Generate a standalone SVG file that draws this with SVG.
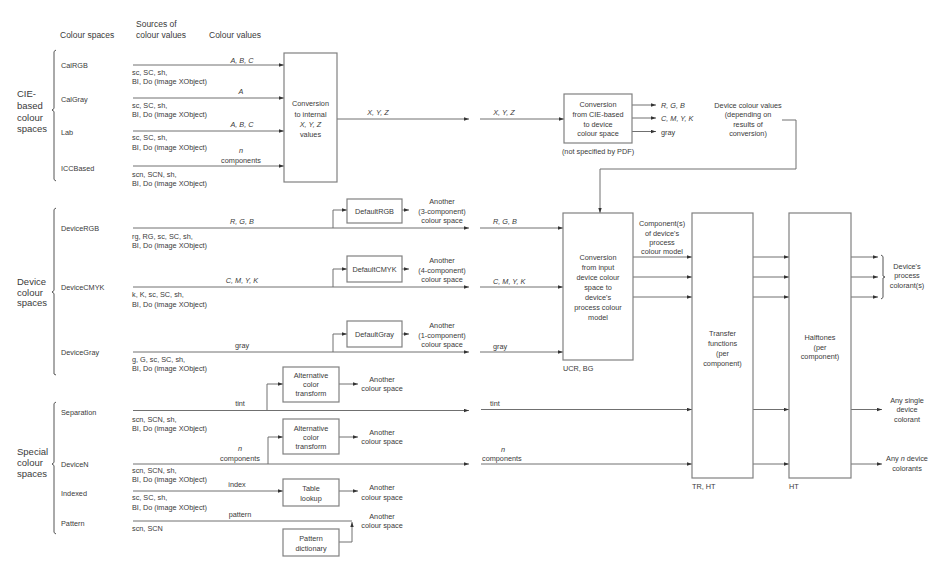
<svg xmlns="http://www.w3.org/2000/svg" width="949" height="570" viewBox="0 0 949 570">
<defs>
<marker id="ah" markerUnits="userSpaceOnUse" markerWidth="6" markerHeight="4" refX="5" refY="2" orient="auto">
<path d="M0,0.3 L5,2 L0,3.7 z" fill="#333"/>
</marker>
<style>
text{font-family:"Liberation Sans",Arial,sans-serif;font-size:7.3px;fill:#3a3a3a}
.h{font-size:8.5px}
.g{font-size:9.5px}
.i{font-style:italic}
.m{text-anchor:middle}
.ln{stroke:#707070;stroke-width:1;fill:none}
.ar{marker-end:url(#ah)}
.bx{fill:#fff;stroke:#808080;stroke-width:1.2}
.br{stroke:#555;stroke-width:1;fill:none}
</style>
</defs>
<rect width="949" height="570" fill="#fff"/>

<g id="headers">
<text class="h" x="60" y="38">Colour spaces</text>
<text class="h" x="136" y="27">Sources of</text>
<text class="h" x="136" y="38">colour values</text>
<text class="h" x="209" y="38">Colour values</text>
</g>

<g id="groups">
<path class="br" d="M56,50 L54,51.5 V108.5 L52,110 L54,111.5 V179.5 L56,181"/>
<text class="g" x="17" y="97">CIE-</text>
<text class="g" x="17" y="109">based</text>
<text class="g" x="17" y="120.5">colour</text>
<text class="g" x="17" y="131.5">spaces</text>
<path class="br" d="M56,208 L54,209.5 V290.5 L52,292 L54,293.5 V374 L56,375"/>
<text class="g" x="17" y="285">Device</text>
<text class="g" x="17" y="295.5">colour</text>
<text class="g" x="17" y="306">spaces</text>
<path class="br" d="M56,402 L54,403.5 V462.5 L52,464 L54,465.5 V532.5 L56,534"/>
<text class="g" x="17" y="455">Special</text>
<text class="g" x="17" y="466">colour</text>
<text class="g" x="17" y="477">spaces</text>
</g>

<g id="spaces">
<text x="61" y="67.5">CalRGB</text>
<text x="61" y="101.5">CalGray</text>
<text x="61" y="134.5">Lab</text>
<text x="61" y="170.5">ICCBased</text>
<text x="61" y="231">DeviceRGB</text>
<text x="61" y="290">DeviceCMYK</text>
<text x="61" y="354.5">DeviceGray</text>
<text x="61" y="415">Separation</text>
<text x="61" y="467">DeviceN</text>
<text x="61" y="496">Indexed</text>
<text x="61" y="525.5">Pattern</text>
</g>

<g id="sources">
<text x="132" y="74.5">sc, SC, sh,</text>
<text x="132" y="83.5">BI, Do (image XObject)</text>
<text x="132" y="107.5">sc, SC, sh,</text>
<text x="132" y="116.5">BI, Do (image XObject)</text>
<text x="132" y="140">sc, SC, sh,</text>
<text x="132" y="149.5">BI, Do (image XObject)</text>
<text x="132" y="176.5">scn, SCN, sh,</text>
<text x="132" y="185.5">BI, Do (image XObject)</text>
<text x="132" y="238.5">rg, RG, sc, SC, sh,</text>
<text x="132" y="248">BI, Do (image XObject)</text>
<text x="132" y="297">k, K, sc, SC, sh,</text>
<text x="132" y="306.7">BI, Do (image XObject)</text>
<text x="132" y="361.7">g, G, sc, SC, sh,</text>
<text x="132" y="370.7">BI, Do (image XObject)</text>
<text x="132" y="422">scn, SCN, sh,</text>
<text x="132" y="431">BI, Do (image XObject)</text>
<text x="132" y="472.7">scn, SCN, sh,</text>
<text x="132" y="482">BI, Do (image XObject)</text>
<text x="132" y="500">sc, SC, sh,</text>
<text x="132" y="509.5">BI, Do (image XObject)</text>
<text x="132" y="531">scn, SCN</text>
</g>

<g id="connectors">
<path class="ln ar" d="M133,65 H284"/>
<path class="ln ar" d="M133,98 H284"/>
<path class="ln ar" d="M133,131 H284"/>
<path class="ln ar" d="M133,166 H284"/>
<path class="ln ar" d="M337,119 H469"/>
<path class="ln ar" d="M480,119 H564"/>
<path class="ln ar" d="M632,105 H656"/>
<path class="ln ar" d="M632,118 H656"/>
<path class="ln ar" d="M632,131.5 H656"/>
<path class="ln ar" d="M782,120 H796 V169 H600 V213"/>

<path class="ln ar" d="M133,228 H469"/>
<path class="ln ar" d="M333,228 V210 H347"/>
<path class="ln ar" d="M402,210 H409"/>
<path class="ln ar" d="M480,228 H563"/>
<path class="ln ar" d="M133,287 H469"/>
<path class="ln ar" d="M333,287 V269 H347"/>
<path class="ln ar" d="M402,269 H409"/>
<path class="ln ar" d="M480,287 H563"/>
<path class="ln ar" d="M133,352 H469"/>
<path class="ln ar" d="M333,352 V334 H347"/>
<path class="ln ar" d="M402,334 H409"/>
<path class="ln ar" d="M480,352 H563"/>

<path class="ln ar" d="M633,257 H692"/>
<path class="ln ar" d="M633,277 H692"/>
<path class="ln ar" d="M633,297 H692"/>
<path class="ln ar" d="M753,257 H789"/>
<path class="ln ar" d="M753,277 H789"/>
<path class="ln ar" d="M753,297 H789"/>
<path class="ln ar" d="M851,257 H878"/>
<path class="ln ar" d="M851,277 H878"/>
<path class="ln ar" d="M851,297 H878"/>
<path class="br" d="M881,255 L883,256.5 V276 L885,277 L883,278 V297.5 L881,299"/>

<path class="ln ar" d="M133,410.5 H469"/>
<path class="ln ar" d="M267,410.5 V384 H283"/>
<path class="ln ar" d="M339,384 H358"/>
<path class="ln ar" d="M481,409.5 H692"/>
<path class="ln ar" d="M753,409.5 H789"/>
<path class="ln ar" d="M851,409.5 H882"/>

<path class="ln ar" d="M133,464 H469"/>
<path class="ln ar" d="M268,464 V437 H283"/>
<path class="ln ar" d="M339,437 H358"/>
<path class="ln ar" d="M481,464 H692"/>
<path class="ln ar" d="M753,464 H789"/>
<path class="ln ar" d="M851,464 H882"/>

<path class="ln ar" d="M133,491 H283"/>
<path class="ln ar" d="M339,491 H358"/>
<path class="ln" d="M133,521 H352"/>
<path class="ln ar" d="M339,542 H352 V522"/>
</g>

<g id="labels">
<text class="m i" x="242" y="62.5">A, B, C</text>
<text class="m i" x="241" y="93.5">A</text>
<text class="m i" x="242" y="126.5">A, B, C</text>
<text class="m i" x="241" y="152.5">n</text>
<text class="m" x="241" y="162.5">components</text>
<text class="m i" x="378" y="114.5">X, Y, Z</text>
<text class="m i" x="504" y="114.5">X, Y, Z</text>
<text class="i" x="661" y="107.5">R, G, B</text>
<text class="i" x="661" y="121">C, M, Y, K</text>
<text x="661" y="134.5">gray</text>
<text class="m" x="748" y="107.5">Device colour values</text>
<text class="m" x="748" y="117">(depending on</text>
<text class="m" x="748" y="126.7">results of</text>
<text class="m" x="748" y="136">conversion)</text>

<text class="m i" x="242" y="223.5">R, G, B</text>
<text class="m i" x="242" y="282.5">C, M, Y, K</text>
<text class="m" x="242" y="347.5">gray</text>
<text class="m" x="442" y="204">Another</text>
<text class="m" x="442" y="213.5">(3-component)</text>
<text class="m" x="442" y="222.7">colour space</text>
<text class="m" x="442" y="263">Another</text>
<text class="m" x="442" y="272.5">(4-component)</text>
<text class="m" x="442" y="281.7">colour space</text>
<text class="m" x="442" y="327.7">Another</text>
<text class="m" x="442" y="337.5">(1-component)</text>
<text class="m" x="442" y="346.7">colour space</text>
<text class="i" x="493" y="223.5">R, G, B</text>
<text class="i" x="493" y="283.5">C, M, Y, K</text>
<text x="493" y="348.7">gray</text>

<text class="m" x="662" y="226">Component(s)</text>
<text class="m" x="662" y="235.7">of device's</text>
<text class="m" x="662" y="245.4">process</text>
<text class="m" x="662" y="254.4">colour model</text>
<text x="563" y="370.5">UCR, BG</text>
<text x="692" y="488.5">TR, HT</text>
<text x="789" y="488.5">HT</text>
<text class="m" x="907" y="268.5">Device's</text>
<text class="m" x="907" y="278">process</text>
<text class="m" x="907" y="287.5">colorant(s)</text>

<text class="m" x="240" y="406">tint</text>
<text class="m" x="382" y="381.7">Another</text>
<text class="m" x="382" y="390.7">colour space</text>
<text x="490" y="405.5">tint</text>
<text class="m" x="907" y="402.7">Any single</text>
<text class="m" x="907" y="412">device</text>
<text class="m" x="907" y="421.5">colorant</text>

<text class="m i" x="240" y="450.7">n</text>
<text class="m" x="240" y="460.5">components</text>
<text class="m" x="382" y="434.5">Another</text>
<text class="m" x="382" y="443.7">colour space</text>
<text class="i" x="501" y="451.5">n</text>
<text x="482" y="460.7">components</text>
<text class="m" x="907" y="461"><tspan>Any </tspan><tspan class="i">n</tspan><tspan> device</tspan></text>
<text class="m" x="907" y="470.5">colorants</text>

<text class="m" x="237" y="487">index</text>
<text class="m" x="382" y="490">Another</text>
<text class="m" x="382" y="499.5">colour space</text>
<text class="m" x="240" y="516.7">pattern</text>
<text class="m" x="382" y="518.5">Another</text>
<text class="m" x="382" y="527.7">colour space</text>
</g>

<g id="conv-xyz">
<rect class="bx" x="284" y="53" width="53" height="129"/>
<text class="m" x="310.5" y="106">Conversion</text>
<text class="m" x="310.5" y="116.5">to internal</text>
<text class="m i" x="310.5" y="127">X, Y, Z</text>
<text class="m" x="310.5" y="137">values</text>
</g>

<g id="conv-cie-device">
<rect class="bx" x="564" y="94" width="68" height="49"/>
<text class="m" x="598" y="107">Conversion</text>
<text class="m" x="598" y="116.7">from CIE-based</text>
<text class="m" x="598" y="126.7">to device</text>
<text class="m" x="598" y="136.3">colour space</text>
<text class="m" x="598" y="153.5">(not specified by PDF)</text>
</g>

<g id="default-rgb">
<rect class="bx" x="347" y="199" width="55" height="24"/>
<text class="m" x="374.5" y="213.5">DefaultRGB</text>
</g>
<g id="default-cmyk">
<rect class="bx" x="347" y="256" width="55" height="26"/>
<text class="m" x="374.5" y="272">DefaultCMYK</text>
</g>
<g id="default-gray">
<rect class="bx" x="347" y="321" width="55" height="26"/>
<text class="m" x="374.5" y="337">DefaultGray</text>
</g>

<g id="conv-device-process">
<rect class="bx" x="563" y="213" width="70" height="147"/>
<text class="m" x="598" y="260">Conversion</text>
<text class="m" x="598" y="270">from input</text>
<text class="m" x="598" y="280">device colour</text>
<text class="m" x="598" y="290">space to</text>
<text class="m" x="598" y="300">device's</text>
<text class="m" x="598" y="310">process colour</text>
<text class="m" x="598" y="320">model</text>
</g>

<g id="transfer">
<rect class="bx" x="692" y="213" width="61" height="265"/>
<text class="m" x="722.5" y="335.5">Transfer</text>
<text class="m" x="722.5" y="345.5">functions</text>
<text class="m" x="722.5" y="355.7">(per</text>
<text class="m" x="722.5" y="365.5">component)</text>
</g>

<g id="halftones">
<rect class="bx" x="789" y="213" width="62" height="265"/>
<text class="m" x="820" y="339.5">Halftones</text>
<text class="m" x="820" y="349.5">(per</text>
<text class="m" x="820" y="358.7">component)</text>
</g>

<g id="alt-1">
<rect class="bx" x="283" y="367" width="56" height="35"/>
<text class="m" x="311" y="377.7">Alternative</text>
<text class="m" x="311" y="386.7">color</text>
<text class="m" x="311" y="396">transform</text>
</g>
<g id="alt-2">
<rect class="bx" x="283" y="419" width="56" height="35"/>
<text class="m" x="311" y="430.5">Alternative</text>
<text class="m" x="311" y="439.7">color</text>
<text class="m" x="311" y="449">transform</text>
</g>
<g id="table-lookup">
<rect class="bx" x="283" y="479" width="56" height="27"/>
<text class="m" x="311" y="490.5">Table</text>
<text class="m" x="311" y="500.5">lookup</text>
</g>
<g id="pattern-dict">
<rect class="bx" x="283" y="529" width="56" height="27"/>
<text class="m" x="311" y="540.7">Pattern</text>
<text class="m" x="311" y="550.5">dictionary</text>
</g>
</svg>
